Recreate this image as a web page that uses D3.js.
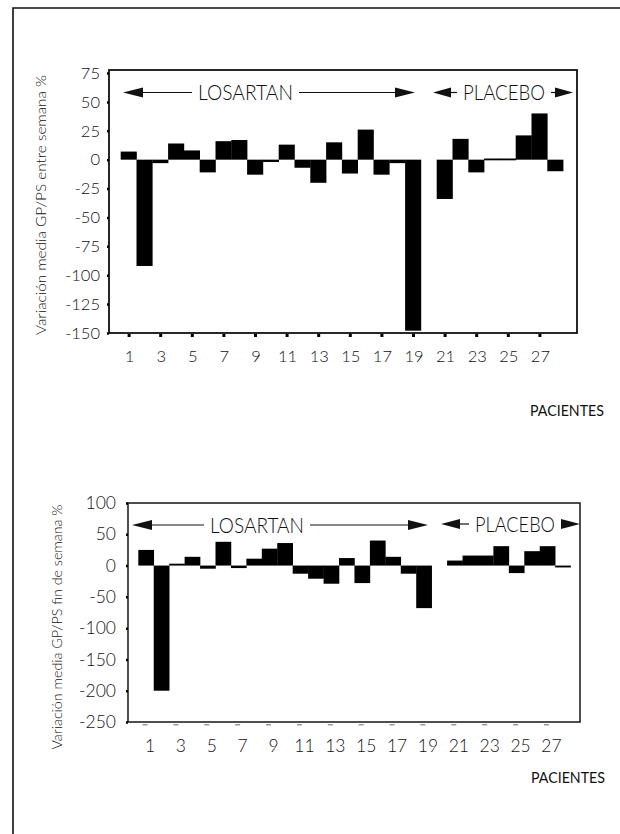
<!DOCTYPE html>
<html>
<head>
<meta charset="utf-8">
<script src="https://cdn.jsdelivr.net/npm/d3@7/dist/d3.min.js"></script>
<style>
html,body{margin:0;padding:0;background:#fff;}
svg{display:block;}
text{font-family:Lato,"Open Sans",sans-serif;font-weight:400;fill:#111;}
</style>
</head>
<body>
<svg id="chart" width="620" height="834"></svg>
<script>
// ---------- DATA ----------
const patients = [1,2,3,4,5,6,7,8,9,10,11,12,13,14,15,16,17,18,19,20,21,22,23,24,25,26,27,28];
// Variación media GP/PS entre semana % (patient 20: no bar)
const weekdayValues = [7,-92,-3,14,8,-11,16,17,-13,-2,13,-7,-20,15,-12,26,-13,-3,-148,null,-34,18,-11,1,1,21,40,-10];
// Variación media GP/PS fin de semana %
const weekendValues = [25,-200,3,14,-5,38,-4,11,27,36,-13,-21,-29,12,-28,40,14,-13,-68,null,8,16,16,31,-12,23,31,-3];
const xTickLabels = [1,3,5,7,9,11,13,15,17,19,21,23,25,27];
const weekdayTicks = [75,50,25,0,-25,-50,-75,-100,-125,-150];
const weekendTicks = [100,50,0,-50,-100,-150,-200,-250];
const groupLabels = ["LOSARTAN","PLACEBO"];
const yTitles = ["Variación media GP/PS entre semana %","Variación media GP/PS fin de semana %"];
const xTitle = "PACIENTES";

const svg = d3.select("#chart");

// outer frame
svg.append("path")
  .attr("d","M13,834 L13,8 L620,8")
  .attr("fill","none").attr("stroke","#111").attr("stroke-width",1.6);

function arrowHead(g, tip, y, dir, len, half){
  g.append("path")
    .attr("d",`M${tip},${y} L${tip - dir*len},${y-half} L${tip - dir*len},${y+half} Z`)
    .attr("fill","#111");
}
function bracket(g, cfg){
  const y = cfg.y, len = cfg.len || 20, half = cfg.half || 5;
  arrowHead(g, cfg.l, y, -1, len, half);
  arrowHead(g, cfg.r, y, 1, len, half);
  g.append("line").attr("x1",cfg.l+len-1).attr("x2",cfg.t0-6).attr("y1",y).attr("y2",y)
    .attr("stroke","#111").attr("stroke-width",1.2);
  g.append("line").attr("x1",cfg.t1+6).attr("x2",cfg.r-len+1).attr("y1",y).attr("y2",y)
    .attr("stroke","#111").attr("stroke-width",1.2);
  g.append("text").attr("x",cfg.t0).attr("y",y+7.5)
    .attr("font-size",cfg.fs).style("font-weight",300)
    .attr("textLength",cfg.t1-cfg.t0).attr("lengthAdjust","spacingAndGlyphs")
    .text(cfg.label);
}

function drawPanel(opt){
  const g = svg.append("g");
  const x = d3.scaleBand().domain(patients).range(opt.band).padding(0);
  const y = d3.scaleLinear().domain(opt.yDomain).range(opt.yRange);
  const [bx0,bx1] = opt.box;
  const yTop = opt.yRange[1], yBot = opt.yRange[0];

  // bars
  g.append("g").selectAll("rect")
    .data(patients.map((p,i)=>({p, v: opt.values[i]})).filter(d=>d.v!==null))
    .join("rect")
    .attr("x", d=>x(d.p))
    .attr("width", x.bandwidth()+0.3)
    .attr("y", d=>y(Math.max(0,d.v)))
    .attr("height", d=>Math.max(1.8, Math.abs(y(d.v)-y(0))))
    .attr("fill","#000");

  // frame
  g.append("rect").attr("x",bx0).attr("y",yTop-opt.topPad).attr("width",bx1-bx0).attr("height",yBot-yTop+opt.topPad)
    .attr("fill","none").attr("stroke",opt.frameColor).attr("stroke-width",opt.frameWidth);

  // left axis
  const ya = d3.axisLeft(y).tickValues(opt.yTicks).tickSize(opt.yTickSize).tickPadding(opt.yTickPad)
    .tickFormat(d=>d);
  const yg = g.append("g").attr("transform",`translate(${bx0},0)`).call(ya);
  yg.select(".domain").remove();
  yg.selectAll(".tick line").attr("stroke","#000").attr("stroke-width",2.5);
  yg.selectAll(".tick text").attr("font-size",opt.tickFs).attr("fill","#111")
    .style("font-family","Lato,'Open Sans',sans-serif").style("font-weight",300);

  // bottom axis
  const xa = d3.axisBottom(x).tickValues(xTickLabels).tickSize(0).tickPadding(opt.xTickPad);
  const xg = g.append("g").attr("transform",`translate(${opt.xLabelDx},${yBot})`).call(xa);
  xg.select(".domain").remove();
  xg.selectAll(".tick text").attr("font-size",opt.tickFs).attr("fill","#111")
    .style("font-family","Lato,'Open Sans',sans-serif").style("font-weight",300);
  // tick marks under axis
  g.append("g").selectAll("rect").data(xTickLabels).join("rect")
    .attr("x",d=>x(d)+x.bandwidth()/2-opt.xTickW/2 + opt.xTickMarkDx)
    .attr("y",yBot+opt.xTickGap).attr("width",opt.xTickW).attr("height",opt.xTickH)
    .attr("fill",opt.xTickColor);

  // y title
  g.append("text")
    .attr("transform",`translate(${opt.yTitlePos[0]},${opt.yTitlePos[1]}) rotate(-90)`)
    .attr("text-anchor","middle").attr("font-size",opt.yTitleFs).style("font-weight",300)
    .attr("textLength",opt.yTitleLen).attr("lengthAdjust","spacingAndGlyphs")
    .attr("dy","0.35em")
    .text(opt.yTitle);

  // x title
  g.append("text").attr("x",opt.xTitlePos[0]).attr("y",opt.xTitlePos[1])
    .attr("font-size",15.5).attr("textLength",74).attr("lengthAdjust","spacingAndGlyphs")
    .text(xTitle);

  opt.brackets.forEach(b=>bracket(g,b));
}

drawPanel({
  values: weekdayValues,
  band: [120.7, 563.1],
  yDomain: [-150, 75],
  yRange: [333, 73],
  box: [109, 577],
  topPad: 3,
  frameColor: "#111",
  frameWidth: 1.8,
  yTicks: weekdayTicks,
  yTickSize: 2, yTickPad: 7,
  tickFs: 16.5,
  xTickPad: 17, xLabelDx: 1,
  xTickW: 3, xTickH: 3, xTickGap: 1, xTickColor: "#000", xTickMarkDx: 0.5,
  yTitle: yTitles[0], yTitlePos: [41, 205], yTitleFs: 14.5, yTitleLen: 260,
  xTitlePos: [530, 416],
  brackets: [
    {l:123, r:415, t0:198, t1:293, y:92.5, label:groupLabels[0], fs:21},
    {l:433, r:573, t0:463, t1:545, y:92.5, label:groupLabels[1], fs:21, len:18}
  ]
});

drawPanel({
  values: weekendValues,
  band: [138.3, 570.6],
  yDomain: [-250, 100],
  yRange: [722, 503],
  box: [128, 580],
  topPad: 0,
  frameColor: "#222",
  frameWidth: 1.6,
  yTicks: weekendTicks,
  yTickSize: 2, yTickPad: 10,
  tickFs: 17.5,
  xTickPad: 18, xLabelDx: 4,
  xTickW: 5, xTickH: 1.5, xTickGap: 2, xTickColor: "#999", xTickMarkDx: -1,
  yTitle: yTitles[1], yTitlePos: [57, 627], yTitleFs: 13.5, yTitleLen: 245,
  xTitlePos: [531, 783],
  brackets: [
    {l:132, r:428, t0:210, t1:304, y:525, label:groupLabels[0], fs:21},
    {l:441, r:580, t0:475, t1:555, y:524, label:groupLabels[1], fs:21, len:19}
  ]
});
</script>
</body>
</html>
